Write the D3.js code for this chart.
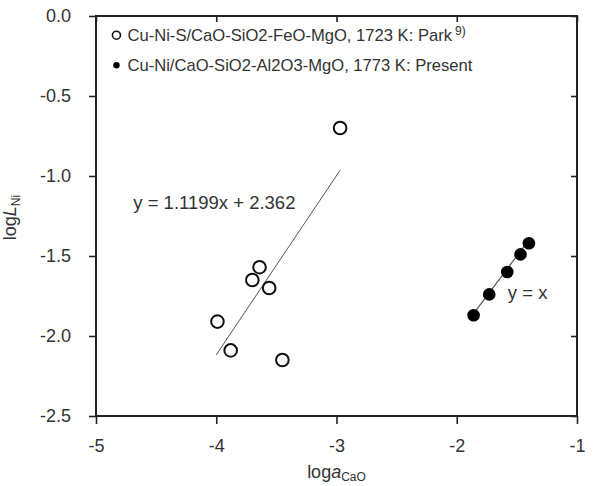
<!DOCTYPE html>
<html>
<head>
<meta charset="utf-8">
<script src="https://cdn.jsdelivr.net/npm/d3@7/dist/d3.min.js"></script>
<style>
  html, body { margin: 0; padding: 0; background: #fff; overflow: hidden; }
  svg { display: block; font-family: "Liberation Sans", Arial, sans-serif; }
</style>
</head>
<body>
<div id="chart"></div>
<script>
// Park (ref. 9): Cu-Ni-S / CaO-SiO2-FeO-MgO, 1723 K
const parkX = [-2.97, -3.64, -3.70, -3.56, -3.99, -3.88, -3.45];
const parkY = [-0.70, -1.57, -1.65, -1.70, -1.91, -2.09, -2.15];

// Present work: Cu-Ni / CaO-SiO2-Al2O3-MgO, 1773 K
const presentX = [-1.86, -1.73, -1.58, -1.47, -1.40];
const presentY = [-1.87, -1.74, -1.60, -1.49, -1.42];

// fitted line y = 1.1199x + 2.362 and the y = x reference
const fitSlope = 1.1199;
const fitIntercept = 2.362;
const fitRange = [-4.0, -2.97];
const unityRange = [-1.86, -1.41];

const xTicks = [-5, -4, -3, -2, -1];
const yTicks = [0.0, -0.5, -1.0, -1.5, -2.0, -2.5];

const legendLabels = [
  'Cu-Ni-S/CaO-SiO2-FeO-MgO, 1723 K: Park',
  'Cu-Ni/CaO-SiO2-Al2O3-MgO, 1773 K: Present'
];

const width = 593;
const height = 486;
const margin = { top: 16, right: 16, bottom: 70, left: 96 };
const innerWidth = width - margin.left - margin.right;
const innerHeight = height - margin.top - margin.bottom;

const svg = d3.select('#chart').append('svg')
  .attr('width', width)
  .attr('height', height);

const plot = svg.append('g').attr('transform', `translate(${margin.left},${margin.top})`);

const x = d3.scaleLinear().domain([-5, -1]).range([0, innerWidth]);
const y = d3.scaleLinear().domain([-2.5, 0]).range([innerHeight, 0]);

const textColor = '#333';
const hyphen = (fmt) => (d) => d3.format(fmt)(d).replace('\u2212', '-');

// axes: outward ticks on left/bottom, inward mirror ticks on top/right
const styleAxis = (g) => {
  g.select('.domain').remove();
  g.selectAll('line').attr('stroke', '#222').attr('stroke-width', 1.6);
  g.selectAll('text')
    .attr('fill', textColor)
    .style('font-size', '18px')
    .style('font-family', '"Liberation Sans", Arial, sans-serif');
};

const mirrorAxis = (g) => {
  g.select('.domain').remove();
  g.selectAll('text').remove();
  g.selectAll('line').attr('stroke', '#222').attr('stroke-width', 1.6);
};

plot.append('g')
  .attr('transform', `translate(0,${innerHeight})`)
  .call(d3.axisBottom(x).tickValues(xTicks).tickSize(8).tickPadding(15).tickFormat(hyphen('d')))
  .call(styleAxis);

plot.append('g')
  .call(d3.axisLeft(y).tickValues(yTicks).tickSize(7).tickPadding(18).tickFormat(hyphen('.1f')))
  .call(styleAxis);

plot.append('g')
  .call(d3.axisTop(x).tickValues(xTicks).tickSize(-6))
  .call(mirrorAxis);

plot.append('g')
  .attr('transform', `translate(${innerWidth},0)`)
  .call(d3.axisRight(y).tickValues(yTicks).tickSize(-6))
  .call(mirrorAxis);

plot.append('rect')
  .attr('x', 0)
  .attr('y', 0)
  .attr('width', innerWidth)
  .attr('height', innerHeight)
  .attr('fill', 'none')
  .attr('stroke', '#222')
  .attr('stroke-width', 2);

// fit lines
const line = d3.line().x((d) => x(d[0])).y((d) => y(d[1]));

plot.append('path')
  .datum(fitRange.map((v) => [v, fitSlope * v + fitIntercept]))
  .attr('fill', 'none')
  .attr('stroke', '#555')
  .attr('stroke-width', 1)
  .attr('d', line);

plot.append('path')
  .datum(unityRange.map((v) => [v, v]))
  .attr('fill', 'none')
  .attr('stroke', '#555')
  .attr('stroke-width', 1.2)
  .attr('d', line);

// points
plot.append('g').selectAll('circle')
  .data(parkX.map((v, i) => [v, parkY[i]]))
  .join('circle')
  .attr('cx', (d) => x(d[0]))
  .attr('cy', (d) => y(d[1]))
  .attr('r', 6.3)
  .attr('fill', '#fff')
  .attr('stroke', '#111')
  .attr('stroke-width', 2);

plot.append('g').selectAll('circle')
  .data(presentX.map((v, i) => [v, presentY[i]]))
  .join('circle')
  .attr('cx', (d) => x(d[0]))
  .attr('cy', (d) => y(d[1]))
  .attr('r', 6.3)
  .attr('fill', '#000');

// annotations
plot.append('text')
  .attr('x', x(-4.69))
  .attr('y', y(-1.2075))
  .attr('fill', textColor)
  .style('font-size', '18.5px')
  .text(`y = ${fitSlope}x + ${fitIntercept}`);

plot.append('text')
  .attr('x', x(-1.575))
  .attr('y', y(-1.767))
  .attr('fill', textColor)
  .style('font-size', '18.5px')
  .text('y = x');

// legend
const legend = plot.append('g').attr('transform', `translate(${x(-4.83)},${y(-0.12)})`);

legend.append('circle')
  .attr('cx', 0).attr('cy', 0).attr('r', 4)
  .attr('fill', '#fff').attr('stroke', '#111').attr('stroke-width', 1.6);

const l1 = legend.append('text')
  .attr('x', 11).attr('y', 6)
  .attr('fill', textColor)
  .style('font-size', '16.6px');
l1.append('tspan').text(legendLabels[0]);
l1.append('tspan').attr('dx', 3).attr('dy', -6).style('font-size', '12px').text('9)');

legend.append('circle')
  .attr('cx', 0).attr('cy', 30).attr('r', 3.2)
  .attr('fill', '#000');

legend.append('text')
  .attr('x', 11).attr('y', 36)
  .attr('fill', textColor)
  .style('font-size', '16.6px')
  .text(legendLabels[1]);

// axis titles
const yTitle = svg.append('text')
  .attr('transform', `translate(16,${margin.top + y(-1.26)}) rotate(-90)`)
  .attr('text-anchor', 'middle')
  .attr('fill', textColor)
  .style('font-size', '18px');
yTitle.append('tspan').text('log');
yTitle.append('tspan').style('font-style', 'italic').text('L');
yTitle.append('tspan').attr('dy', 4).style('font-size', '12px').text('Ni');

const xTitle = svg.append('text')
  .attr('x', margin.left + x(-3))
  .attr('y', 478)
  .attr('text-anchor', 'middle')
  .attr('fill', textColor)
  .style('font-size', '18px');
xTitle.append('tspan').text('log');
xTitle.append('tspan').style('font-style', 'italic').text('a');
xTitle.append('tspan').attr('dy', 3).style('font-size', '12px').text('CaO');
</script>
</body>
</html>
